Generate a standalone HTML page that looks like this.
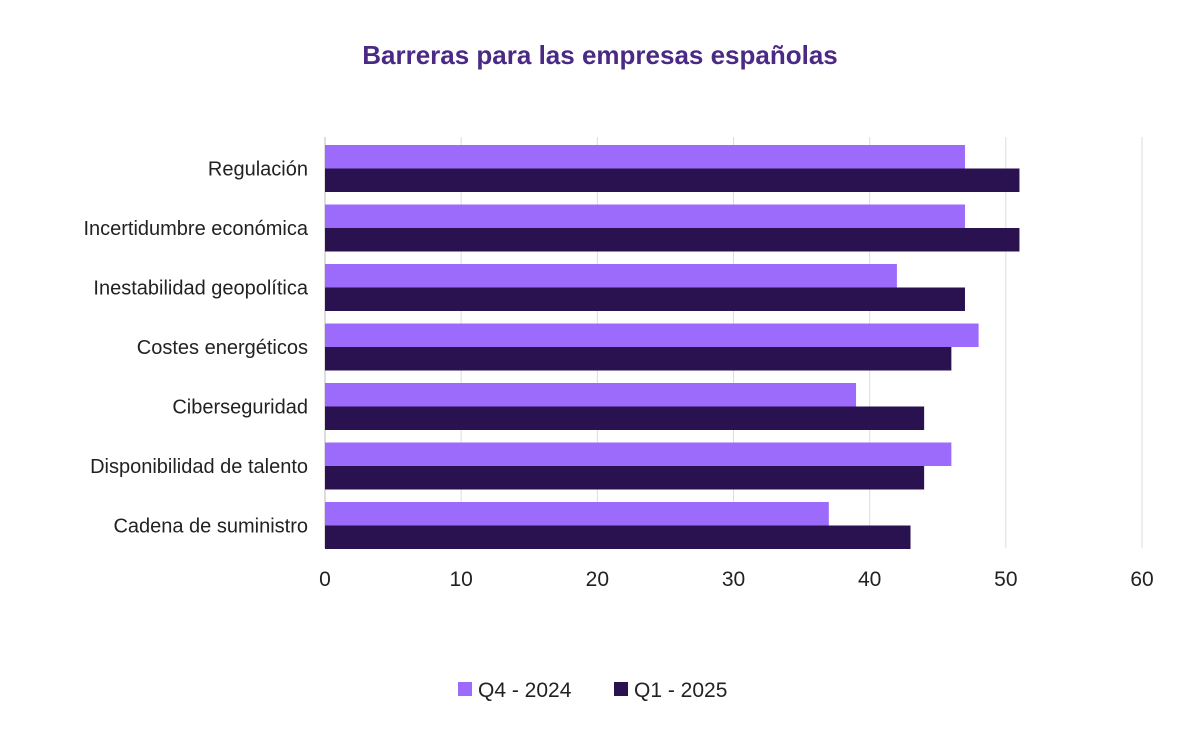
<!DOCTYPE html>
<html><head><meta charset="utf-8"><style>
html,body{margin:0;padding:0;background:#fff;}
svg{display:block;font-family:"Liberation Sans",sans-serif;}
</style></head><body>
<svg id="chart" width="1199" height="732">
<text x="600" y="64" text-anchor="middle" font-size="26" font-weight="bold" fill="#4a2a85">Barreras para las empresas españolas</text>
<g id="grid"></g><g id="bars"></g><g id="labels"></g><g id="ticks"></g>
<g>
<rect x="458" y="682" width="14" height="14" fill="#9d6bfb"/>
<text x="478" y="697" font-size="21" fill="#222">Q4 - 2024</text>
<rect x="614" y="682" width="14" height="14" fill="#2a1250"/>
<text x="634" y="697" font-size="21" fill="#222">Q1 - 2025</text>
</g>
</svg>
<script>
const categories=["Regulación","Incertidumbre económica","Inestabilidad geopolítica","Costes energéticos","Ciberseguridad","Disponibilidad de talento","Cadena de suministro"];
const q4Values=[47,47,42,48,39,46,37];
const q1Values=[51,51,47,46,44,44,43];
const tickValues=[0,10,20,30,40,50,60];
const NS="http://www.w3.org/2000/svg";
const x0=325,x1=1142,xMax=60,plotTop=137,pitch=59.5,barH=23.5,firstY=145;
const xs=v=>x0+(v/xMax)*(x1-x0);
function mk(tag,attrs,parent){const e=document.createElementNS(NS,tag);for(const k in attrs)e.setAttribute(k,attrs[k]);document.getElementById(parent).appendChild(e);return e;}
tickValues.forEach(t=>{
 const l=mk("line",{x1:xs(t),x2:xs(t),y1:plotTop,y2:548,stroke:t===0?"#bbb":"#ddd","stroke-width":1},"grid");
 
 
 const tx=mk("text",{x:xs(t),y:586,"text-anchor":"middle","font-size":21,fill:"#222"},"ticks");
 tx.textContent=t;
 
 
});
categories.forEach((c,i)=>{
 const y=firstY+i*pitch;
 const a=mk("rect",{x:x0,y:y,width:xs(q4Values[i])-x0,height:barH,fill:"#9d6bfb"},"bars");
 
 
 const b=mk("rect",{x:x0,y:y+barH,width:xs(q1Values[i])-x0,height:barH,fill:"#2a1250"},"bars");
 
 
 const t=mk("text",{x:308,y:y+barH+7,"text-anchor":"end","font-size":20,fill:"#222"},"labels");
 t.textContent=c;
 
 
});
</script>
</body></html>
